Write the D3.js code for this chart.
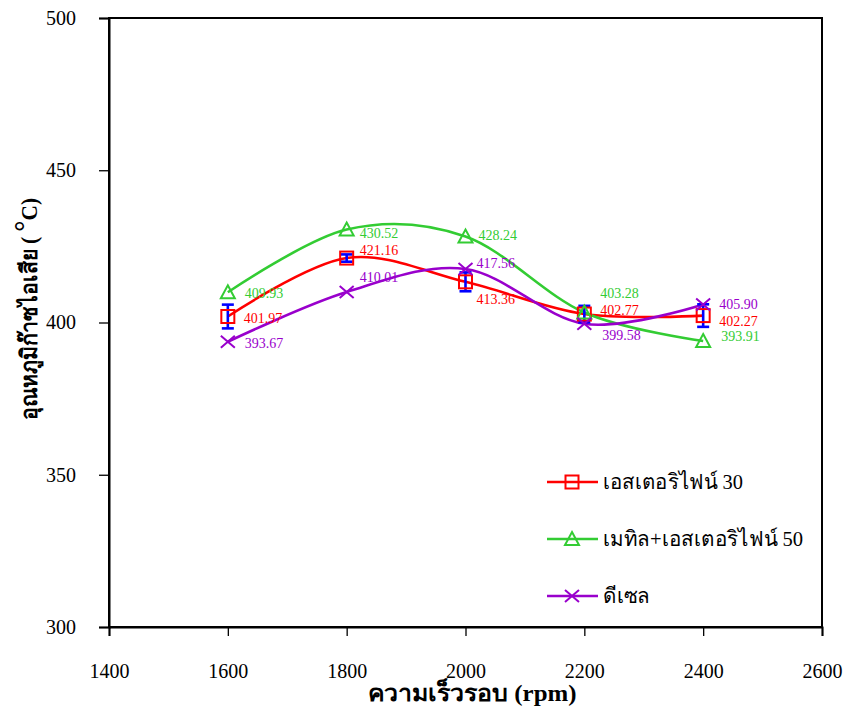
<!DOCTYPE html>
<html><head><meta charset="utf-8">
<script src="https://cdn.jsdelivr.net/npm/d3@7"></script>
<style>
body{margin:0;background:#fff;}
text{font-family:"Liberation Serif","Times New Roman",Tinos,"DejaVu Serif",serif;}
</style></head>
<body><svg id="chart" width="848" height="709"></svg>
<script>
// ---- data ----
const speeds = [1600, 1800, 2000, 2200, 2400];
const seriesNames = ["เอสเตอริไฟน์ 30", "เมทิล+เอสเตอริไฟน์ 50", "ดีเซล"];
const ester30 = [401.97, 421.16, 413.36, 402.77, 402.27];
const methylEster50 = [409.93, 430.52, 428.24, 403.28, 393.91];
const diesel = [393.67, 410.01, 417.56, 399.58, 405.90];
const ester30Error = [3.9, 1.2, 3.1, 2.7, 3.7];
const xTicks = [1400, 1600, 1800, 2000, 2200, 2400, 2600];
const yTicks = [300, 350, 400, 450, 500];
const xTitle = "ความเร็วรอบ (rpm)";
const yTitleMain = "อุณหภูมิก๊าซไอเสีย ( ";
const yTitleUnit = "C)";

// ---- styling ----
const FONT = '"Liberation Serif","Times New Roman",Tinos,"DejaVu Serif",serif';
const colors = ["#ff0000", "#33cc33", "#9900cc"];
const markers = ["square", "triangle", "cross"];
// label nudges [dx, dy] (pixels) per series, per point
const labelNudge = [
  [[16,2],[13,-8],[11,17],[16,-4],[16,6]],
  [[17,1],[13,4],[13,-1],[16,-19],[18,-5]],
  [[17,1.5],[13,-15],[11,-6],[18,11],[16,0]]
];
const legendTextLength = [140, 200, 47];

const svg = d3.select("#chart");
const m = {l:109, t:18, r:822, b:627};
const x = d3.scaleLinear().domain([1400, 2600]).range([m.l, m.r]);
const y = d3.scaleLinear().domain([300, 500]).range([m.b, m.t]);

// frame
svg.append("rect").attr("x", m.l).attr("y", m.t).attr("width", m.r-m.l).attr("height", m.b-m.t)
  .attr("fill","none").attr("stroke","#000").attr("stroke-width",2);

// axes
const xAxis = svg.append("g").attr("transform",`translate(0,${m.b})`)
  .call(d3.axisBottom(x).tickValues(xTicks).tickFormat(d3.format("d")).tickSizeOuter(0).tickSize(9).tickPadding(28));
const yAxis = svg.append("g").attr("transform",`translate(${m.l},0)`)
  .call(d3.axisLeft(y).tickValues(yTicks).tickFormat(d3.format("d")).tickSizeOuter(0).tickSize(10).tickPadding(23));
[xAxis, yAxis].forEach(a => {
  a.attr("font-family", FONT);
  a.select(".domain").attr("stroke","#000").attr("stroke-width",2);
  a.selectAll(".tick line").attr("stroke","#000").attr("stroke-width",1.3);
  a.selectAll(".tick text").attr("font-size",20).attr("fill","#000").attr("font-family", FONT);
});

// titles
svg.append("text").attr("x", 472).attr("y", 701).attr("text-anchor","middle")
  .attr("font-family", FONT).attr("font-size",23).attr("font-weight","bold")
  .attr("textLength",209).attr("lengthAdjust","spacingAndGlyphs").text(xTitle);
const yt = svg.append("text").attr("transform","translate(37,309) rotate(-90)").attr("text-anchor","middle")
  .attr("font-family", FONT).attr("font-size",23).attr("font-weight","bold")
  .attr("textLength",222).attr("lengthAdjust","spacingAndGlyphs");
yt.append("tspan").text(yTitleMain);
yt.append("tspan").attr("font-size",30).attr("dy",-2).text("°");
yt.append("tspan").attr("dy",2).text(yTitleUnit);

const allSeries = [ester30, methylEster50, diesel];
const line = d3.line().x((d,i)=>x(speeds[i])).y(d=>y(d)).curve(d3.curveCardinal.tension(0));

allSeries.forEach((s,k)=>{
  svg.append("path").datum(s).attr("d", line).attr("fill","none")
    .attr("stroke", colors[k]).attr("stroke-width", 2.6);
});

// error bars on ester30
const eb = svg.append("g").attr("stroke","#0000ff").attr("stroke-width",2.6);
ester30.forEach((v,i)=>{
  const cx = x(speeds[i]), y1 = y(v+ester30Error[i]), y2 = y(v-ester30Error[i]);
  eb.append("line").attr("x1",cx).attr("x2",cx).attr("y1",y1).attr("y2",y2);
  eb.append("line").attr("x1",cx-6).attr("x2",cx+6).attr("y1",y1).attr("y2",y1);
  eb.append("line").attr("x1",cx-6).attr("x2",cx+6).attr("y1",y2).attr("y2",y2);
});

function drawMarker(g, type, cx, cy, color){
  if(type==="square"){
    g.append("rect").attr("x",cx-6.5).attr("y",cy-6.5).attr("width",13).attr("height",13)
      .attr("fill","none").attr("stroke",color).attr("stroke-width",2);
  } else if(type==="triangle"){
    g.append("path").attr("d",`M${cx},${cy-7}L${cx+7},${cy+6}L${cx-7},${cy+6}Z`)
      .attr("fill","none").attr("stroke",color).attr("stroke-width",2);
  } else {
    g.append("path").attr("d",`M${cx-7},${cy-6}L${cx+7},${cy+6}M${cx-7},${cy+6}L${cx+7},${cy-6}`)
      .attr("fill","none").attr("stroke",color).attr("stroke-width",2);
  }
}

const mk = svg.append("g");
allSeries.forEach((s,k)=>{
  s.forEach((v,i)=>drawMarker(mk, markers[k], x(speeds[i]), y(v), colors[k]));
});

// data labels
const lb = svg.append("g");
allSeries.forEach((s,k)=>{
  s.forEach((v,i)=>{
    lb.append("text").attr("x", x(speeds[i]) + labelNudge[k][i][0])
      .attr("y", y(v) + labelNudge[k][i][1]).attr("dy","0.35em")
      .attr("font-family", FONT).attr("font-size",14).attr("fill",colors[k]).text(v.toFixed(2));
  });
});

// legend
const legY = [482, 539, 596];
const lg = svg.append("g");
seriesNames.forEach((n,k)=>{
  lg.append("line").attr("x1",547).attr("x2",598).attr("y1",legY[k]).attr("y2",legY[k])
    .attr("stroke",colors[k]).attr("stroke-width",2.6);
  drawMarker(lg, markers[k], 572, legY[k], colors[k]);
  lg.append("text").attr("x",603).attr("y",legY[k]).attr("dy","0.35em")
    .attr("font-family", FONT).attr("font-size",21).attr("fill","#000")
    .attr("textLength",legendTextLength[k]).attr("lengthAdjust","spacingAndGlyphs").text(n);
});
</script></body></html>
